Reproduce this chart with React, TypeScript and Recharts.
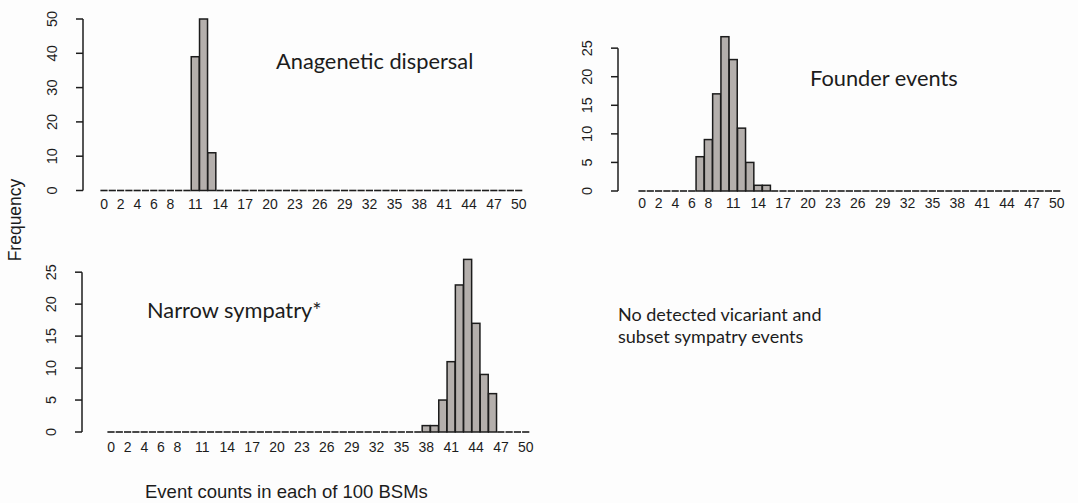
import { BarChart, Bar, XAxis, YAxis, ReferenceLine } from "recharts";

const eventCounts = [
  "0", "1", "2", "3", "4", "5", "6", "7", "8", "9",
  "10", "11", "12", "13", "14", "15", "16", "17", "18", "19",
  "20", "21", "22", "23", "24", "25", "26", "27", "28", "29",
  "30", "31", "32", "33", "34", "35", "36", "37", "38", "39",
  "40", "41", "42", "43", "44", "45", "46", "47", "48", "49",
  "50",
];

const shownLabels = [
  "0", "2", "4", "6", "8", "11", "14", "17", "20", "23",
  "26", "29", "32", "35", "38", "41", "44", "47", "50",
];

const anageneticFreq = [
  0, 0, 0, 0, 0, 0, 0, 0, 0, 0,
  0, 39, 50, 11, 0, 0, 0, 0, 0, 0,
  0, 0, 0, 0, 0, 0, 0, 0, 0, 0,
  0, 0, 0, 0, 0, 0, 0, 0, 0, 0,
  0, 0, 0, 0, 0, 0, 0, 0, 0, 0,
  0,
];

const founderFreq = [
  0, 0, 0, 0, 0, 0, 0, 6, 9, 17,
  27, 23, 11, 5, 1, 1, 0, 0, 0, 0,
  0, 0, 0, 0, 0, 0, 0, 0, 0, 0,
  0, 0, 0, 0, 0, 0, 0, 0, 0, 0,
  0, 0, 0, 0, 0, 0, 0, 0, 0, 0,
  0,
];

const narrowFreq = [
  0, 0, 0, 0, 0, 0, 0, 0, 0, 0,
  0, 0, 0, 0, 0, 0, 0, 0, 0, 0,
  0, 0, 0, 0, 0, 0, 0, 0, 0, 0,
  0, 0, 0, 0, 0, 0, 0, 0, 1, 1,
  5, 11, 23, 27, 17, 9, 6, 0, 0, 0,
  0,
];

const ticks50 = [0, 10, 20, 30, 40, 50];
const ticks25 = [0, 5, 10, 15, 20, 25];

const INK = "#1c1c1c";
const FILL = "#b4afac";
const AXIS_FONT = "'Liberation Sans', Arial, sans-serif";
const TITLE_FONT = "Lato, 'Open Sans', sans-serif";

const HistBar = (props: any) => {
  const { x, y, width, height } = props;
  if (!height) {
    return (
      <line x1={x + 0.4} x2={x + width - 0.4} y1={y} y2={y} stroke={INK} strokeWidth={1.6} />
    );
  }
  return <rect x={x} y={y} width={width} height={height} fill={FILL} stroke={INK} strokeWidth={1.5} />;
};

const XTick = (props: any) => {
  const { x, y, payload } = props;
  if (!shownLabels.includes(String(payload.value))) return <g />;
  return (
    <text x={x} y={y} dy="0.35em" textAnchor="middle" fontSize={14} fontFamily={AXIS_FONT} fill={INK}>
      {payload.value}
    </text>
  );
};

const YTick = (props: any) => {
  const { x, y, payload } = props;
  return (
    <text
      x={x}
      y={y}
      transform={`rotate(-90, ${x}, ${y})`}
      textAnchor="middle"
      fontSize={14.5}
      fontFamily={AXIS_FONT}
      fill={INK}
    >
      {payload.value}
    </text>
  );
};

function Histogram({
  values,
  yMax,
  yTicks,
  axisTop,
  width,
  height,
  yAxisWidth,
  padLeft,
  labelGap,
  margin,
}: {
  values: number[];
  yMax: number;
  yTicks: number[];
  axisTop: number;
  width: number;
  height: number;
  yAxisWidth: number;
  padLeft: number;
  labelGap: number;
  margin: { top: number; right: number; bottom: number; left: number };
}) {
  const data = eventCounts.map((k, i) => ({ k, freq: values[i] }));
  return (
    <BarChart width={width} height={height} data={data} margin={margin} barCategoryGap={0} barGap={0}>
      <XAxis
        dataKey="k"
        interval={0}
        tick={<XTick />}
        tickLine={false}
        axisLine={false}
        tickSize={0}
        tickMargin={labelGap}
        height={30}
        padding={{ left: padLeft, right: 0 }}
      />
      <XAxis xAxisId="ax" type="number" domain={[0, 1]} hide />
      <YAxis
        type="number"
        domain={[0, yMax]}
        ticks={yTicks}
        interval={0}
        width={yAxisWidth}
        axisLine={false}
        tickLine={{ stroke: INK, strokeWidth: 1.5 }}
        tickSize={7}
        tickMargin={19}
        tick={<YTick />}
      />
      <ReferenceLine
        xAxisId="ax"
        segment={[
          { x: 0, y: 0 },
          { x: 0, y: axisTop },
        ]}
        stroke={INK}
        strokeWidth={1.5}
        ifOverflow="visible"
      />
      <Bar dataKey="freq" shape={HistBar} isAnimationActive={false} />
    </BarChart>
  );
}

export default function App() {
  return (
    <div
      style={{
        position: "absolute",
        left: 0,
        top: 0,
        width: 1078,
        height: 503,
        background: "#fdfdfd",
        overflow: "hidden",
      }}
    >
      <div style={{ position: "absolute", left: 0, top: 0 }}>
        <Histogram
          values={anageneticFreq}
          yMax={50}
          yTicks={ticks50}
          axisTop={50}
          width={540}
          height={230}
          yAxisWidth={83}
          padLeft={17}
          labelGap={14}
          margin={{ top: 19, right: 17, bottom: 9.5, left: 0 }}
        />
      </div>
      <div style={{ position: "absolute", left: 540, top: 0 }}>
        <Histogram
          values={founderFreq}
          yMax={28}
          yTicks={ticks25}
          axisTop={25}
          width={538}
          height={230}
          yAxisWidth={78}
          padLeft={20}
          labelGap={12}
          margin={{ top: 31, right: 17, bottom: 9, left: 0 }}
        />
      </div>
      <div style={{ position: "absolute", left: 0, top: 230 }}>
        <Histogram
          values={narrowFreq}
          yMax={28}
          yTicks={ticks25}
          axisTop={25}
          width={540}
          height={273}
          yAxisWidth={82}
          padLeft={25}
          labelGap={15}
          margin={{ top: 23, right: 10, bottom: 41, left: 0 }}
        />
      </div>

      <div style={{ position: "absolute", left: 276, top: 47, fontFamily: TITLE_FONT, fontSize: 21.8, color: INK, whiteSpace: "nowrap" }}>
        Anagenetic dispersal
      </div>
      <div style={{ position: "absolute", left: 810, top: 64, fontFamily: TITLE_FONT, fontSize: 21.8, color: INK, whiteSpace: "nowrap" }}>
        Founder events
      </div>
      <div style={{ position: "absolute", left: 147, top: 296, fontFamily: TITLE_FONT, fontSize: 21.8, color: INK, whiteSpace: "nowrap" }}>
        Narrow sympatry*
      </div>
      <div style={{ position: "absolute", left: 618, top: 303, fontFamily: TITLE_FONT, fontSize: 18, lineHeight: "22px", color: INK, whiteSpace: "nowrap" }}>
        No detected vicariant and
        <br />
        subset sympatry events
      </div>

      <div
        style={{
          position: "absolute",
          left: 15,
          top: 220,
          transform: "translate(-50%, -50%) rotate(-90deg)",
          fontFamily: AXIS_FONT,
          fontSize: 17.5,
          color: INK,
          whiteSpace: "nowrap",
        }}
      >
        Frequency
      </div>
      <div
        style={{
          position: "absolute",
          left: 145,
          top: 481,
          fontFamily: AXIS_FONT,
          fontSize: 18.5,
          color: INK,
          whiteSpace: "nowrap",
        }}
      >
        Event counts in each of 100 BSMs
      </div>
    </div>
  );
}
